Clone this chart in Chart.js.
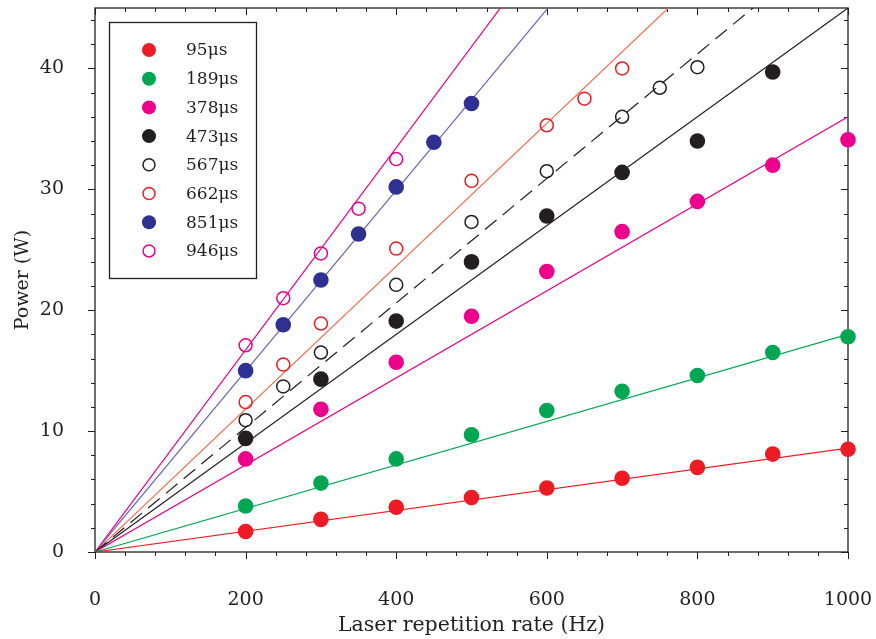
<!DOCTYPE html>
<html>
<head>
<meta charset="utf-8">
<script src="https://cdn.jsdelivr.net/npm/chart.js@4.4.1/dist/chart.umd.min.js"></script>
<style>
    body { margin: 0; background: #fff; }
    #wrap { width: 876px; height: 639px; }
</style>
</head>
<body>
<div id="wrap"><canvas id="powerChart" width="876" height="639"></canvas></div>
<script>
// Measured output power vs laser repetition rate, one series per pulse length
const pulseLabels = ['95μs', '189μs', '378μs', '473μs', '567μs', '662μs', '851μs', '946μs'];

const rateFull = [200, 300, 400, 500, 600, 700, 800, 900, 1000];
const p95 = [1.7, 2.7, 3.7, 4.5, 5.3, 6.1, 7.0, 8.1, 8.5];
const p189 = [3.8, 5.7, 7.7, 9.7, 11.7, 13.3, 14.6, 16.5, 17.8];
const p378 = [7.7, 11.8, 15.7, 19.5, 23.2, 26.5, 29.0, 32.0, 34.1];

const rate473 = [200, 300, 400, 500, 600, 700, 800, 900];
const p473 = [9.4, 14.3, 19.1, 24.0, 27.8, 31.4, 34.0, 39.7];

const rate567 = [200, 250, 300, 400, 500, 600, 700, 750, 800];
const p567 = [10.9, 13.7, 16.5, 22.1, 27.3, 31.5, 36.0, 38.4, 40.1];

const rate662 = [200, 250, 300, 400, 500, 600, 650, 700];
const p662 = [12.4, 15.5, 18.9, 25.1, 30.7, 35.3, 37.5, 40.0];

const rate851 = [200, 250, 300, 350, 400, 450, 500];
const p851 = [15.0, 18.8, 22.5, 26.3, 30.2, 33.9, 37.1];

const rate946 = [200, 250, 300, 350, 400];
const p946 = [17.1, 21.0, 24.7, 28.4, 32.5];

// linear fits through the origin, value of each fit at 1000 Hz
const fitAt1000 = [8.6, 18.0, 36.0, 45.0, 51.5, 59.1, 74.8, 83.6];

const xTickLabels = [0, 200, 400, 600, 800, 1000];
const yTickLabels = [0, 10, 20, 30, 40];

const rates = [rateFull, rateFull, rateFull, rate473, rate567, rate662, rate851, rate946];
const powers = [p95, p189, p378, p473, p567, p662, p851, p946];

// marker colour, open/filled, fit line colour, dashed
const styles = [
    { mark: '#ed1c24', open: false, line: '#ed1c24', dash: [] },
    { mark: '#00a651', open: false, line: '#00a651', dash: [] },
    { mark: '#ec008c', open: false, line: '#ec008c', dash: [] },
    { mark: '#231f20', open: false, line: '#231f20', dash: [] },
    { mark: '#231f20', open: true, line: '#231f20', dash: [15, 8] },
    { mark: '#ed1c24', open: true, line: '#f26c4f', dash: [] },
    { mark: '#2e3192', open: false, line: '#6a66b0', dash: [] },
    { mark: '#ec008c', open: true, line: '#ec008c', dash: [] }
];

const FONT = '"DejaVu Serif", serif';
const INK = '#231f20';

const pointDataset = (i) => ({
    label: pulseLabels[i],
    data: rates[i].map((r, k) => ({ x: r, y: powers[i][k] })),
    showLine: false,
    pointRadius: styles[i].open ? 6.5 : 7.8,
    pointHoverRadius: styles[i].open ? 6.5 : 7.8,
    pointBorderWidth: styles[i].open ? 1.5 : 0,
    pointBorderColor: styles[i].mark,
    pointBackgroundColor: styles[i].open ? 'rgba(0,0,0,0)' : styles[i].mark,
    clip: false,
    order: 0
});

const fitDataset = (i) => ({
    label: pulseLabels[i] + ' fit',
    data: [{ x: 0, y: 0 }, { x: 1000, y: fitAt1000[i] }],
    showLine: true,
    borderColor: styles[i].line,
    borderWidth: 1.2,
    borderDash: styles[i].dash,
    pointRadius: 0,
    pointHoverRadius: 0,
    order: 1
});

const datasets = [];
pulseLabels.forEach((_, i) => datasets.push(pointDataset(i)));
pulseLabels.forEach((_, i) => datasets.push(fitDataset(i)));

// box round the plot with minor/major ticks (out on bottom/left, in on top/right)
const framePlugin = {
    id: 'frame',
    beforeDatasetsDraw(chart) {
        const { ctx, chartArea: a, scales: { x, y } } = chart;
        ctx.save();
        ctx.strokeStyle = INK;
        ctx.lineWidth = 1.3;
        ctx.strokeRect(a.left, a.top, a.right - a.left, a.bottom - a.top);
        ctx.lineWidth = 1;
        ctx.beginPath();
        for (let v = 0; v <= 1000; v += 40) {
            const px = Math.round(x.getPixelForValue(v)) + 0.5;
            const len = v % 200 === 0 ? 7 : 4;
            ctx.moveTo(px, a.bottom); ctx.lineTo(px, a.bottom + len);
            ctx.moveTo(px, a.top); ctx.lineTo(px, a.top + len);
        }
        for (let v = 0; v <= 44; v += 2) {
            const py = Math.round(y.getPixelForValue(v)) + 0.5;
            const len = v % 10 === 0 ? 7 : 4;
            ctx.moveTo(a.left, py); ctx.lineTo(a.left - len, py);
            ctx.moveTo(a.right, py); ctx.lineTo(a.right - len, py);
        }
        ctx.stroke();
        ctx.restore();
    },
    afterDatasetsDraw(chart) {
        // legend box in the top-left corner
        const { ctx } = chart;
        ctx.save();
        ctx.fillStyle = '#fff';
        ctx.fillRect(109, 22, 148, 257);
        ctx.strokeStyle = INK;
        ctx.lineWidth = 1.3;
        ctx.strokeRect(109.5, 22.5, 147, 256);
        ctx.font = '17px ' + FONT;
        ctx.textBaseline = 'middle';
        pulseLabels.forEach((lab, i) => {
            const cy = 50 + i * 28.7;
            const s = styles[i];
            ctx.beginPath();
            if (s.open) {
                ctx.arc(149, cy, 6, 0, Math.PI * 2);
                ctx.lineWidth = 1.5;
                ctx.strokeStyle = s.mark;
                ctx.stroke();
            } else {
                ctx.arc(149, cy, 7, 0, Math.PI * 2);
                ctx.fillStyle = s.mark;
                ctx.fill();
            }
            ctx.fillStyle = INK;
            ctx.fillText(lab, 186, cy + 1);
        });
        ctx.restore();
    }
};

const noPad = (s) => {
    s.paddingTop = 0;
    s.paddingBottom = 0;
    s.paddingLeft = 0;
    s.paddingRight = 0;
};

new Chart(document.getElementById('powerChart'), {
    type: 'scatter',
    data: { datasets },
    options: {
        responsive: false,
        animation: false,
        events: [],
        layout: { padding: { top: 8, right: 28, bottom: 0, left: 0 } },
        plugins: {
            legend: { display: false },
            tooltip: { enabled: false }
        },
        scales: {
            x: {
                type: 'linear',
                min: 0,
                max: 1000,
                grid: { display: false },
                border: { display: false },
                afterBuildTicks: (s) => { s.ticks = xTickLabels.map(v => ({ value: v })); },
                afterFit: (s) => { s.height = 87; noPad(s); },
                ticks: {
                    padding: 29,
                    color: INK,
                    font: { family: FONT, size: 19 },
                    maxRotation: 0,
                    callback: (v) => String(v)
                },
                title: {
                    display: true,
                    text: 'Laser repetition rate (Hz)',
                    color: INK,
                    font: { family: FONT, size: 20.5 },
                    padding: { top: 0, bottom: 1 }
                }
            },
            y: {
                type: 'linear',
                min: 0,
                max: 45,
                grid: { display: false },
                border: { display: false },
                afterBuildTicks: (s) => { s.ticks = yTickLabels.map(v => ({ value: v })); },
                afterFit: (s) => { s.width = 95; noPad(s); },
                ticks: {
                    padding: 23,
                    color: INK,
                    font: { family: FONT, size: 19 },
                    callback: (v) => String(v)
                },
                title: {
                    display: true,
                    text: 'Power (W)',
                    color: INK,
                    font: { family: FONT, size: 19 },
                    padding: { top: 12, bottom: 10 }
                }
            }
        }
    },
    plugins: [framePlugin]
});
</script>
</body>
</html>
